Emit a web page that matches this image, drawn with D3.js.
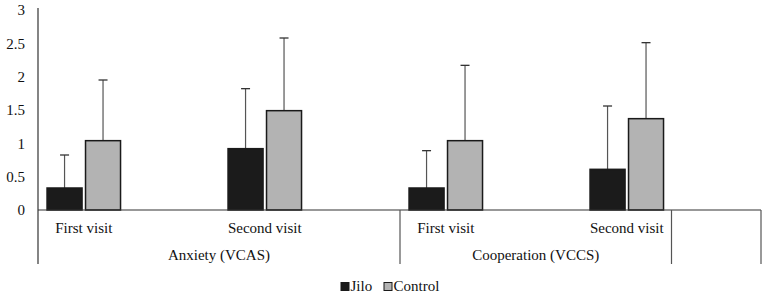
<!DOCTYPE html>
<html>
<head>
<meta charset="utf-8">
<script src="https://cdn.jsdelivr.net/npm/d3@7"></script>
<style>
  html, body { margin: 0; padding: 0; background: #fff; }
  svg { display: block; }
</style>
</head>
<body>
<script>
// ---- data ----
const groups = ["Anxiety (VCAS)", "Cooperation (VCCS)"];
const visits = ["First visit", "Second visit"];
const series = ["Jilo", "Control"];
const jiloMeans = [0.33, 0.92, 0.33, 0.61];
const jiloSD = [0.495, 0.90, 0.56, 0.95];
const controlMeans = [1.04, 1.49, 1.04, 1.37];
const controlSD = [0.91, 1.09, 1.13, 1.14];
const yTicks = [0, 0.5, 1, 1.5, 2, 2.5, 3];

// ---- layout ----
const W = 767, H = 302;
const plotLeft = 38, plotRight = 762, plotTop = 10, zeroY = 210;
const colors = { Jilo: "#1b1b1b", Control: "#b3b3b3" };
const FONT = "'Liberation Serif', 'Times New Roman', 'DejaVu Serif', serif";

const categories = [];
groups.forEach(g => visits.forEach(v => categories.push({ group: g, visit: v })));
const means = { Jilo: jiloMeans, Control: controlMeans };
const sds = { Jilo: jiloSD, Control: controlSD };

const svg = d3.select("body").append("svg").attr("width", W).attr("height", H)
  .style("font-family", FONT);

const x0 = d3.scaleBand().domain(d3.range(categories.length)).range([plotLeft, plotRight]).padding(0);
const bw = x0.bandwidth();
const x1 = d3.scaleBand().domain(series).range([bw * 0.05, bw * 0.456]).paddingInner(0.09);
const y = d3.scaleLinear().domain([0, 3]).range([zeroY, plotTop]);

function txt(sel) {
  return sel.attr("font-family", FONT).style("font-family", FONT).style("font-size", "15px").attr("fill", "#111");
}

// y axis labels (no tick marks)
const yAxis = d3.axisLeft(y).tickValues(yTicks).tickSize(0).tickPadding(13).tickFormat(d3.format("~g"));
const gy = svg.append("g").attr("transform", `translate(${plotLeft},0)`).call(yAxis)
  .attr("font-family", FONT);
gy.select(".domain").remove();
txt(gy.selectAll("text"));

// axis line
svg.append("line").attr("x1", plotLeft).attr("x2", plotLeft).attr("y1", plotTop - 2).attr("y2", 264)
  .attr("stroke", "#333").attr("stroke-width", 1.2);

// bars
const gBars = svg.append("g");
categories.forEach((c, i) => {
  series.forEach(s => {
    const m = means[s][i], sd = sds[s][i];
    const bx = x0(i) + x1(s);
    const cx = bx + x1.bandwidth() / 2;
    gBars.append("line").attr("x1", cx).attr("x2", cx).attr("y1", y(m)).attr("y2", y(m + sd))
      .attr("stroke", "#555").attr("stroke-width", 1.2);
    gBars.append("line").attr("x1", cx - 4.5).attr("x2", cx + 4.5).attr("y1", y(m + sd)).attr("y2", y(m + sd))
      .attr("stroke", "#333").attr("stroke-width", 1.3);
    gBars.append("rect").attr("x", bx).attr("y", y(m)).attr("width", x1.bandwidth())
      .attr("height", y(0) - y(m)).attr("fill", colors[s]).attr("stroke", "#1a1a1a").attr("stroke-width", 1.5);
  });
});

// zero / category axis line
const endX = x0.range()[1] - 1;
svg.append("line").attr("x1", plotLeft).attr("x2", endX).attr("y1", zeroY).attr("y2", zeroY)
  .attr("stroke", "#333").attr("stroke-width", 1.2);

// category separators
const sepXs = [x0(2), x0(3) + bw / 2, endX];
sepXs.forEach(sx => {
  svg.append("line").attr("x1", sx).attr("x2", sx).attr("y1", zeroY).attr("y2", 264)
    .attr("stroke", "#555").attr("stroke-width", 1.2);
});

// first-level labels
const groupCenter = (x1.range()[0] + x1.range()[1]) / 2;
categories.forEach((c, i) => {
  txt(svg.append("text").attr("x", x0(i) + groupCenter).attr("y", 233)
    .attr("text-anchor", "middle")).text(c.visit);
});
// second-level labels
const groupBounds = [[plotLeft, x0(2)], [x0(2), x0(3) + bw / 2]];
groups.forEach((g, gi) => {
  txt(svg.append("text").attr("x", (groupBounds[gi][0] + groupBounds[gi][1]) / 2).attr("y", 260)
    .attr("text-anchor", "middle")).text(g);
});

// legend
const legend = svg.append("g");
const legendX = [341, 384];
series.forEach((s, i) => {
  legend.append("rect").attr("x", legendX[i]).attr("y", 282.5).attr("width", 8).attr("height", 8)
    .attr("fill", colors[s]).attr("stroke", "#1a1a1a").attr("stroke-width", 1);
  txt(legend.append("text").attr("x", legendX[i] + 9.5).attr("y", 290.5)).text(s);
});
</script>
</body>
</html>
